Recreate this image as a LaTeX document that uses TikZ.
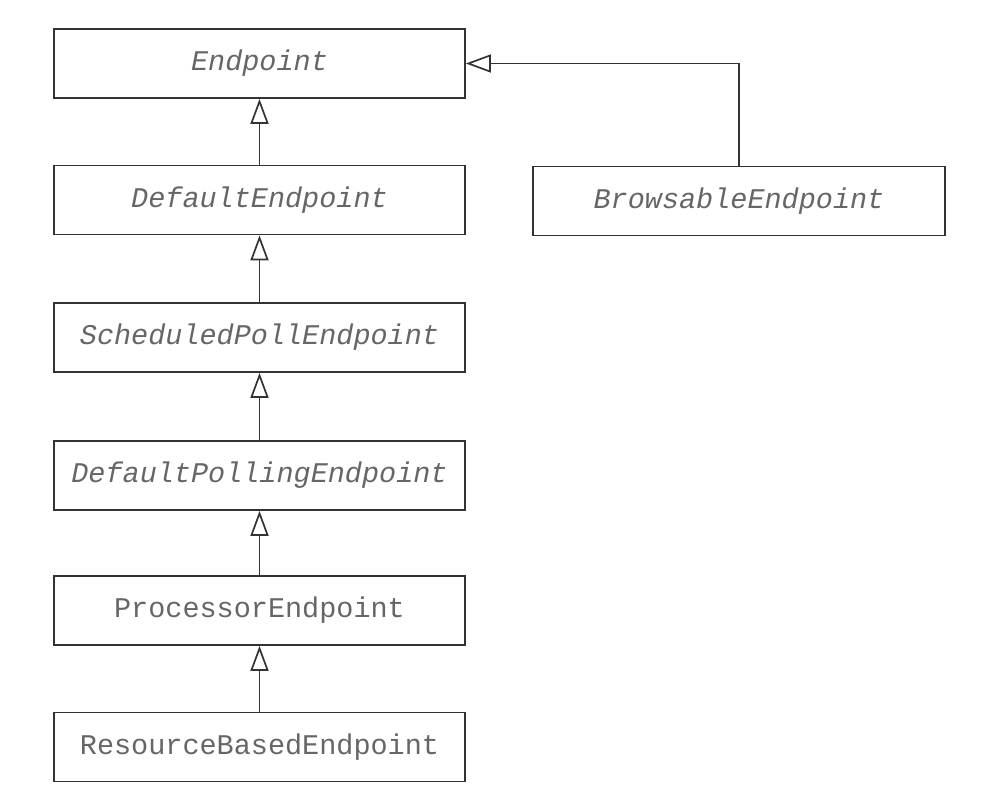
\documentclass[tikz,border=0pt]{standalone}
\usepackage{fontspec}
\setmonofont{Liberation Mono}
\usetikzlibrary{arrows.meta}
\definecolor{txt}{HTML}{666666}
\definecolor{ln}{HTML}{333333}
\tikzset{
  cls/.style={draw=ln, line width=1.7pt, minimum width=411pt, minimum height=69pt,
    inner sep=0pt, text=txt, font=\fontsize{28.5}{30}\selectfont\ttfamily},
  abs/.style={cls, font=\fontsize{28.5}{30}\selectfont\ttfamily\itshape},
  inh/.style={draw=ln, line width=1.7pt, -{Triangle[fill=white, length=25pt, width=18pt, line width=1.7pt]}}
}
\begin{document}
\begin{tikzpicture}[x=1pt, y=-1pt]
\useasboundingbox (0,0) rectangle (1000,800);
\node[abs] (ep) at (259.5,63.5) {Endpoint};
\node[abs] (dep) at (259.5,200) {DefaultEndpoint};
\node[abs] (spe) at (259.5,337.5) {ScheduledPollEndpoint};
\node[abs] (dpe) at (259.5,475.5) {DefaultPollingEndpoint};
\node[cls] (pe) at (259.5,610.5) {ProcessorEndpoint};
\node[cls] (rbe) at (259.5,747) {ResourceBasedEndpoint};
\node[abs, minimum width=412pt] (be) at (739,201) {BrowsableEndpoint};
\coordinate (bend) at (be.north |- ep.east);
\draw[inh] (dep) -- (ep);
\draw[inh] (spe) -- (dep);
\draw[inh] (dpe) -- (spe);
\draw[inh] (pe) -- (dpe);
\draw[inh] (rbe) -- (pe);
\draw[inh] (be.north) -- (bend) -- (ep.east);
\end{tikzpicture}
\end{document}
